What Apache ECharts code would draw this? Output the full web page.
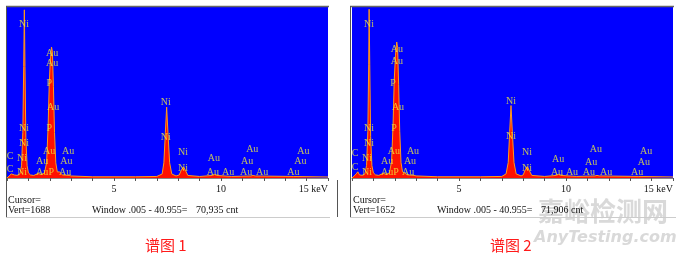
<!DOCTYPE html>
<html>
<head>
<meta charset="utf-8">
<script src="https://cdn.jsdelivr.net/npm/echarts@6/dist/echarts.min.js"></script>
<style>
html,body{margin:0;padding:0;background:#fff;}
#chart{width:680px;height:258px;}
</style>
</head>
<body>
<div id="chart"></div>
<script>
// ---- data (keV, counts) ----
const xTicks = [5, 10, 15];
const vert1 = 1688;
const vert2 = 1652;
const spectrum1 = [
  [0.00, 0], [0.10, 20], [0.20, 40], [0.27, 55], [0.35, 30], [0.50, 25], [0.60, 40],
  [0.68, 120], [0.74, 450], [0.78, 1100], [0.81, 1660], [0.84, 1100], [0.88, 400],
  [0.94, 120], [1.00, 50], [1.10, 30], [1.25, 25], [1.45, 45], [1.60, 35], [1.75, 50],
  [1.85, 150], [1.92, 500], [1.97, 900], [2.02, 1150], [2.08, 1293], [2.12, 1250],
  [2.17, 900], [2.22, 450], [2.28, 150], [2.35, 60], [2.45, 60], [2.60, 30], [2.90, 25],
  [3.00, 20], [4.00, 12], [5.00, 12], [6.00, 12], [7.00, 15], [7.25, 40], [7.33, 150],
  [7.40, 450], [7.46, 700], [7.52, 450], [7.60, 150], [7.70, 40], [7.90, 20], [8.05, 30],
  [8.15, 80], [8.25, 110], [8.35, 70], [8.45, 25], [9.00, 15], [9.60, 25], [9.70, 35],
  [9.80, 25], [10.50, 15], [11.40, 20], [11.50, 25], [11.60, 20], [13.40, 15], [15.00, 10]
];
const spectrum2 = [
  [0.00, 0], [0.10, 20], [0.20, 40], [0.27, 60], [0.35, 30], [0.50, 25], [0.60, 40],
  [0.68, 120], [0.74, 450], [0.78, 1100], [0.80, 1630], [0.83, 1100], [0.87, 400],
  [0.93, 120], [1.00, 50], [1.10, 30], [1.25, 25], [1.45, 45], [1.60, 35], [1.75, 50],
  [1.85, 160], [1.92, 520], [1.97, 930], [2.03, 1180], [2.09, 1314], [2.13, 1260],
  [2.18, 900], [2.23, 450], [2.29, 150], [2.36, 60], [2.45, 55], [2.60, 30], [2.90, 25],
  [3.00, 20], [4.00, 12], [5.00, 12], [6.00, 12], [7.00, 15], [7.20, 40], [7.30, 150],
  [7.37, 450], [7.43, 700], [7.49, 450], [7.57, 150], [7.67, 40], [7.90, 20], [8.00, 30],
  [8.10, 80], [8.19, 110], [8.29, 70], [8.40, 25], [9.00, 15], [9.55, 25], [9.65, 35],
  [9.75, 25], [10.50, 15], [11.35, 20], [11.45, 25], [11.55, 20], [13.40, 15], [15.00, 10]
];
const labels1 = [
  [0.80, 1520, 'Ni'], [2.11, 1234, 'Au'], [2.11, 1135, 'Au'], [1.97, 938, 'P'],
  [2.16, 701, 'Au'], [0.80, 494, 'Ni'], [1.97, 494, 'P'], [0.80, 345, 'Ni'],
  [0.14, 217, 'C'], [0.70, 197, 'Ni'], [1.97, 267, 'Au'], [2.86, 267, 'Au'],
  [1.64, 168, 'Au'], [2.77, 168, 'Au'], [0.14, 89, 'C'], [0.70, 59, 'Ni'],
  [1.64, 59, 'Au'], [2.07, 59, 'P'], [2.72, 59, 'Au'], [7.42, 750, 'Ni'],
  [7.42, 405, 'Ni'], [8.22, 257, 'Ni'], [8.22, 99, 'Ni'], [9.67, 197, 'Au'],
  [9.62, 59, 'Au'], [10.33, 59, 'Au'], [11.46, 286, 'Au'], [11.22, 168, 'Au'],
  [11.17, 59, 'Au'], [11.92, 59, 'Au'], [13.85, 267, 'Au'], [13.71, 168, 'Au'],
  [13.38, 59, 'Au']
];
const labels2 = [
  [0.79, 1488, 'Ni'], [2.10, 1246, 'Au'], [2.10, 1130, 'Au'], [1.92, 918, 'P'],
  [2.15, 686, 'Au'], [0.79, 483, 'Ni'], [1.96, 483, 'P'], [0.79, 338, 'Ni'],
  [0.14, 242, 'C'], [0.70, 193, 'Ni'], [1.96, 261, 'Au'], [2.85, 261, 'Au'],
  [1.64, 164, 'Au'], [2.71, 164, 'Au'], [0.14, 106, 'C'], [0.70, 58, 'Ni'],
  [1.64, 58, 'Au'], [2.06, 58, 'P'], [2.62, 58, 'Au'], [7.43, 744, 'Ni'],
  [7.43, 406, 'Ni'], [8.18, 251, 'Ni'], [8.18, 97, 'Ni'], [9.63, 184, 'Au'],
  [9.58, 58, 'Au'], [10.28, 58, 'Au'], [11.40, 280, 'Au'], [11.17, 155, 'Au'],
  [11.07, 58, 'Au'], [11.87, 58, 'Au'], [13.74, 261, 'Au'], [13.64, 155, 'Au'],
  [13.32, 58, 'Au']
];
const info1 = { vert: 'Vert=1688', window: 'Window .005 - 40.955=', cnt: '70,935 cnt', caption: '谱图 1' };
const info2 = { vert: 'Vert=1652', window: 'Window .005 - 40.955=', cnt: '71,906 cnt', caption: '谱图 2' };

// ---- chart ----
const serif = 'Liberation Serif';
const chart = echarts.init(document.getElementById('chart'), null, { renderer: 'canvas' });

function xAxisFor(gi) {
  return {
    type: 'value', gridIndex: gi, min: 0, max: 15, interval: 1,
    axisLine: { show: true, lineStyle: { color: '#888', width: 1 } },
    axisTick: { show: true, length: 3, lineStyle: { color: '#555' } },
    splitLine: { show: false },
    axisLabel: {
      show: true, margin: 6, fontFamily: serif, fontSize: 10, color: '#111',
      alignMaxLabel: 'right',
      formatter: v => xTicks.indexOf(v) < 0 ? '' : (v === 15 ? '15 keV' : String(v))
    }
  };
}
function yAxisFor(gi, max) {
  return { type: 'value', gridIndex: gi, min: 0, max: max, show: false, splitLine: { show: false } };
}
function specSeries(gi, data) {
  return {
    type: 'line', xAxisIndex: gi, yAxisIndex: gi, data: data, showSymbol: false, symbol: 'none',
    smooth: false, animation: false,
    lineStyle: { color: '#ff9a1a', width: 1 },
    areaStyle: { color: '#ff1000', opacity: 1 },
    z: 2
  };
}
function labelSeries(gi, data) {
  return {
    type: 'scatter', xAxisIndex: gi, yAxisIndex: gi, data: data, symbolSize: 1,
    itemStyle: { color: 'rgba(0,0,0,0)' }, animation: false, silent: true,
    label: {
      show: true, position: 'inside', formatter: p => p.data[2],
      fontFamily: serif, fontSize: 10, color: '#eded3c'
    },
    z: 5
  };
}
function panelGraphics(x0, info, capX) {
  const t = (x, y, text, extra) => Object.assign({
    type: 'text', left: x, top: y,
    style: { text: text, fontFamily: serif, fontSize: 10, fill: '#111' }
  }, extra || {});
  return [
    t(x0 + 1, 195, 'Cursor='),
    t(x0 + 1, 205, info.vert),
    t(x0 + 85, 205, info.window),
    t(x0 + 189, 205, info.cnt),
    { type: 'text', left: capX, top: 238, z: 10,
      style: { text: info.caption, fontFamily: 'Noto Sans CJK SC', fontSize: 15, fill: '#ff1a1a' } }
  ];
}
function frameLines() {
  const L = (x1, y1, x2, y2, c, w) => ({ type: 'line', silent: true, z: 1,
    shape: { x1, y1, x2, y2 }, style: { stroke: c, lineWidth: w } });
  return [
    L(6, 6.5, 329, 6.5, '#666', 1.5), L(6.5, 6, 6.5, 217, '#555', 1),
    L(6, 217.5, 330, 217.5, '#ccc', 1), L(337.5, 180, 337.5, 217, '#555', 1),
    L(350, 6.5, 674, 6.5, '#666', 1.5), L(350.5, 6, 350.5, 217, '#555', 1),
    L(350, 217.5, 676, 217.5, '#ccc', 1)
  ];
}
const watermark = [
  { type: 'text', left: 538, top: 198, z: 0, silent: true,
    style: { text: '嘉峪检测网', fontFamily: 'Noto Sans CJK SC', fontWeight: 'bold', fontSize: 26, fill: 'rgba(170,170,170,0.45)' } },
  { type: 'text', left: 534, top: 230, z: 0, silent: true,
    style: { text: 'AnyTesting.com', fontFamily: 'DejaVu Sans', fontStyle: 'italic', fontWeight: 'bold', fontSize: 16, fill: 'rgba(170,170,170,0.45)' } }
];

chart.setOption({
  backgroundColor: '#ffffff',
  animation: false,
  grid: [
    { left: 7, top: 7, width: 321, height: 171, show: true, backgroundColor: '#0000ff', borderWidth: 0 },
    { left: 352, top: 7, width: 321, height: 171, show: true, backgroundColor: '#0000ff', borderWidth: 0 }
  ],
  xAxis: [xAxisFor(0), xAxisFor(1)],
  yAxis: [yAxisFor(0, vert1), yAxisFor(1, vert2)],
  series: [specSeries(0, spectrum1), labelSeries(0, labels1), specSeries(1, spectrum2), labelSeries(1, labels2)],
  graphic: watermark.concat(frameLines(), panelGraphics(7, info1, 145), panelGraphics(352, info2, 490))
});
</script>
</body>
</html>
